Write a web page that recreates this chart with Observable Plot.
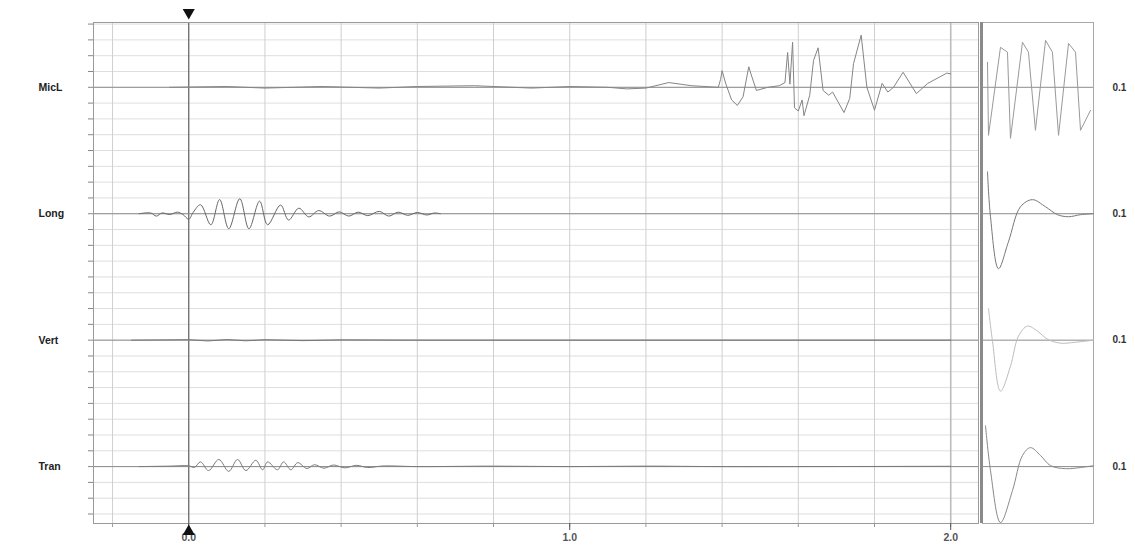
<!DOCTYPE html>
<html><head><meta charset="utf-8">
<script src="https://cdn.jsdelivr.net/npm/d3@7"></script>
<script src="https://cdn.jsdelivr.net/npm/@observablehq/plot@0.6"></script>
<style>
body{margin:0;background:#fff;}
#wrap{position:relative;width:1135px;height:550px;overflow:hidden;font-family:Arial,"Liberation Sans",sans-serif;}
#wrap svg{position:absolute;top:0;}
</style></head><body><div id="wrap"></div>
<script>
// ---- data ----
const channels = ["MicL", "Long", "Vert", "Tran"];
const xTickValues = [0, 1, 2];
const rightLabels = ["0.1", "0.1", "0.1", "0.1"];

// main traces: [time, amplitude]
const micL = [[-0.05,0],[0.1,0.05],[0.2,-0.05],[0.35,0.05],[0.5,-0.05],[0.6,0.05],[0.75,0.1],[0.9,-0.05],[1.0,0.05],[1.1,0],
  [1.15,-0.1],[1.2,-0.05],[1.26,0.3],[1.32,0.1],[1.39,0],[1.396,0.5],[1.40,1.05],[1.41,0.2],[1.425,-0.8],[1.44,-1.15],
  [1.455,-0.6],[1.47,1.3],[1.475,0.9],[1.49,-0.2],[1.52,0],[1.55,0.1],[1.565,0.3],[1.572,2.2],[1.578,0.2],[1.585,2.85],
  [1.59,-1.3],[1.6,-1.5],[1.61,-0.8],[1.615,-1.8],[1.63,-0.5],[1.64,1.7],[1.652,2.5],[1.665,-0.2],[1.68,-0.5],[1.69,-0.3],
  [1.72,-1.6],[1.735,-0.7],[1.745,1.5],[1.765,3.3],[1.78,0],[1.8,-1.45],[1.82,0.25],[1.835,-0.3],[1.85,0],[1.875,0.95],
  [1.91,-0.4],[1.94,0.25],[1.99,0.9],[2.0,0.85]];
const long = [[-0.13,0],[-0.1,0.05],[-0.085,-0.15],[-0.07,0.05],[-0.05,-0.05],[-0.03,0.1],[-0.015,-0.05],[0,-0.35],[0.012,0.1],
  [0.031,0.57],[0.058,-0.7],[0.081,0.9],[0.105,-0.95],[0.134,0.95],[0.158,-0.95],[0.186,0.8],[0.207,-0.7],[0.241,0.55],
  [0.262,-0.4],[0.289,0.35],[0.315,-0.2],[0.341,0.2],[0.37,-0.15],[0.395,0.12],[0.42,-0.15],[0.445,0.1],[0.47,-0.12],
  [0.5,0.15],[0.525,-0.15],[0.55,0.1],[0.575,-0.1],[0.6,0.08],[0.625,-0.08],[0.645,0.05],[0.66,0]];
const vert = [[-0.15,0],[0,0.03],[0.05,-0.05],[0.1,0.04],[0.15,-0.04],[0.2,0.03],[0.3,-0.03],[0.4,0.02],[0.6,0],[2.0,0]];
const tran = [[-0.13,0],[-0.05,0.03],[0,0.05],[0.015,-0.05],[0.031,0.3],[0.052,-0.25],[0.079,0.45],[0.105,-0.3],[0.128,0.45],
  [0.15,-0.25],[0.176,0.4],[0.194,-0.2],[0.207,0.3],[0.233,-0.2],[0.249,0.3],[0.268,-0.2],[0.286,0.25],[0.31,-0.12],
  [0.33,0.12],[0.355,-0.1],[0.38,0.1],[0.41,-0.08],[0.44,0.08],[0.47,-0.06],[0.51,0.04],[0.6,0],[0.8,0.03],[1.0,0],
  [1.2,0.03],[1.4,0],[2.0,0.02]];

// inset (zoomed) traces: [inset time 0..100, amplitude]
const micLInset = [[4.5,1.58],[5.4,-3.04],[16.2,2.53],[22.5,2.22],[25.2,-3.23],[36,2.85],[41.4,2.22],[47.7,-2.72],
  [56.8,2.97],[63,2.22],[68.5,-3.04],[77.5,2.78],[83.8,2.22],[88.3,-2.72],[97.3,-1.46]];
const longInset = [[4.5,2.66],[7.2,-0.19],[14.4,-3.48],[23.4,-1.77],[34.2,0.44],[45,0.89],[56.8,0.44],[67.6,-0.06],
  [77.5,-0.19],[88.3,-0.06],[100,0]];
const vertInset = [[5.4,2.0],[9,-0.06],[16.2,-3.23],[25.2,-1.65],[32.4,0.25],[40.5,0.89],[49.5,0.57],[58.6,0.06],
  [70.3,-0.19],[83.8,-0.13],[100,0]];
const tranInset = [[2.7,2.6],[7.2,-0.25],[16.2,-3.54],[27,-1.52],[36,0.7],[43.2,1.2],[52.3,0.7],[61.3,0.06],
  [74.8,-0.13],[88.3,-0.06],[100,0.06]];

// ---- layout helpers ----
const ROWS = 8;
const base = i => (channels.length - 1 - i) * ROWS;
const baselines = channels.map((c, i) => base(i));
const yDomain = [-3.6, 28.1];
const gridX = d3.range(-1, 11).map(i => +(i * 0.2).toFixed(1));
const gridY = d3.range(-3, 29);
const rows = (name, pts) => { const i = channels.indexOf(name); return pts.map(([t, v]) => ({t, y: base(i) + v})); };

const font = "Arial, 'Liberation Sans', sans-serif";

const main = Plot.plot({
  width: 1135, height: 550,
  marginLeft: 93, marginRight: 157, marginTop: 22, marginBottom: 27,
  x: {domain: [-0.25, 2.073], label: null},
  y: {domain: yDomain, label: null},
  style: {fontFamily: font, background: "transparent", color: "#555"},
  marks: [
    Plot.ruleY(gridY, {stroke: "#dedede", strokeWidth: 1}),
    Plot.ruleX(gridX, {stroke: "#cfcfcf", strokeWidth: 1}),
    Plot.ruleX([2], {stroke: "#bbb", strokeWidth: 1.5}),
    Plot.ruleX([0], {stroke: "#666", strokeWidth: 1.2}),
    Plot.ruleY(baselines, {stroke: "#8c8c8c", strokeWidth: 1}),
    Plot.frame({stroke: "#9a9a9a"}),
    Plot.line(rows("MicL", micL), {x: "t", y: "y", stroke: "#858585", strokeWidth: 1}),
    Plot.line(rows("Long", long), {x: "t", y: "y", stroke: "#666", strokeWidth: 1, curve: "catmull-rom"}),
    Plot.line(rows("Vert", vert), {x: "t", y: "y", stroke: "#777", strokeWidth: 1}),
    Plot.line(rows("Tran", tran), {x: "t", y: "y", stroke: "#7a7a7a", strokeWidth: 1, curve: "catmull-rom"}),
    Plot.axisY({ticks: gridY, tickSize: 5, tickFormat: () => "", color: "#888", label: null}),
    Plot.axisX({ticks: gridX, tickSize: 4, tickFormat: () => "", color: "#999", label: null}),
    Plot.axisX({ticks: xTickValues, tickSize: 7, tickPadding: 3, tickFormat: d => d.toFixed(1),
      fontWeight: "bold", fontSize: 10.5, color: "#555", label: null}),
    Plot.text(channels, {x: -0.25, y: (d, i) => base(i), dx: -55, textAnchor: "start",
      fontWeight: "bold", fontSize: 10.5, fill: "#222"}),
    Plot.dot([0], {x: d => d, y: yDomain[1], dy: -10, symbol: "triangle", r: 4.5, fill: "#111", stroke: null, rotate: 180}),
    Plot.dot([0], {x: d => d, y: yDomain[0], dy: 8, symbol: "triangle", r: 4.5, fill: "#111", stroke: null})
  ]
});

const inset = Plot.plot({
  width: 155, height: 550,
  marginLeft: 2, marginRight: 42, marginTop: 22, marginBottom: 27,
  x: {domain: [0, 100], axis: null},
  y: {domain: yDomain, axis: null},
  style: {fontFamily: font, background: "transparent", color: "#555"},
  marks: [
    Plot.ruleY(baselines, {stroke: "#8c8c8c", strokeWidth: 1}),
    Plot.frame({stroke: "#a8a8a8"}),
    Plot.ruleX([0], {stroke: "#8a8a8a", strokeWidth: 3, dx: -1}),
    Plot.line(rows("MicL", micLInset), {x: "t", y: "y", stroke: "#999", strokeWidth: 1}),
    Plot.line(rows("Long", longInset), {x: "t", y: "y", stroke: "#777", strokeWidth: 1, curve: "catmull-rom"}),
    Plot.line(rows("Vert", vertInset), {x: "t", y: "y", stroke: "#bdbdbd", strokeWidth: 1, curve: "catmull-rom"}),
    Plot.line(rows("Tran", tranInset), {x: "t", y: "y", stroke: "#888", strokeWidth: 1, curve: "catmull-rom"}),
    Plot.text(rightLabels, {x: 100, y: (d, i) => base(i), dx: 19, textAnchor: "start",
      fontWeight: "bold", fontSize: 10, fill: "#333"})
  ]
});

const wrap = document.getElementById("wrap");
main.style.left = "0px";
inset.style.left = "980px";
wrap.appendChild(main);
wrap.appendChild(inset);
</script>
</body></html>
